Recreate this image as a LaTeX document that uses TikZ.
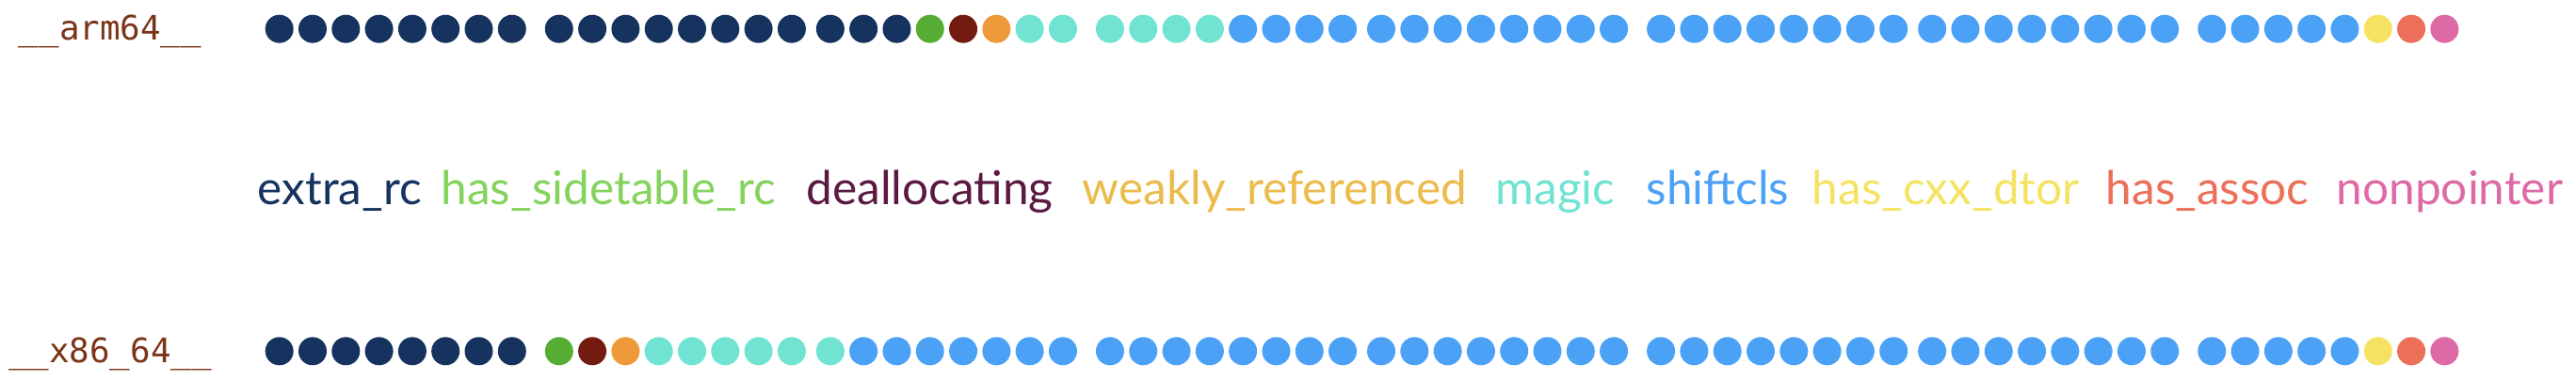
\documentclass[tikz,border=0pt]{standalone}
\usepackage{fontspec}
\setmainfont{Lato}
\newfontfamily\archfont{DejaVu Sans Mono}

\definecolor{extrarc}{HTML}{15335E}
\definecolor{sidedot}{HTML}{56AD33}
\definecolor{sidetxt}{HTML}{83D35C}
\definecolor{deallocdot}{HTML}{731B10}
\definecolor{dealloctxt}{HTML}{5B1942}
\definecolor{weakdot}{HTML}{EF9A3A}
\definecolor{weaktxt}{HTML}{EBBB4B}
\definecolor{magic}{HTML}{70E3D2}
\definecolor{shiftcls}{HTML}{4BA1F6}
\definecolor{cxxdtor}{HTML}{F6E262}
\definecolor{assoc}{HTML}{EC7059}
\definecolor{nonptr}{HTML}{DE6AA5}
\definecolor{archtxt}{HTML}{7A3418}

\begin{document}
\begin{tikzpicture}[
    arch/.style={font=\archfont\fontsize{10.2}{12}\selectfont, text=archtxt, inner sep=0, anchor=base},
    field/.style={font=\fontsize{14.1}{17}\selectfont, inner sep=0, anchor=base west}]
  \useasboundingbox (0,0) rectangle (27.36,4.04);
  % architecture names
  \node[arch] (arm) at (1.17,3.61) {\_\_arm64\_\_};
  \node[arch] (x86) at (1.17,0.19) {\_\_x86\_64\_\_};
  % isa bits, 8 to a byte, bytes in pairs
  \foreach \from/\to/\col in {0/18/extrarc, 19/19/sidedot, 20/20/deallocdot, 21/21/weakdot,
      22/27/magic, 28/60/shiftcls, 61/61/cxxdtor, 62/62/assoc, 63/63/nonptr}
    \foreach \i in {\from,...,\to} {
      \pgfmathsetmacro\bx{2.967+floor(\i/16)*5.8515+mod(floor(\i/8),2)*2.971+mod(\i,8)*0.353}
      \fill[\col] (\bx,3.733) circle (0.15);
    }
  \foreach \from/\to/\col in {0/7/extrarc, 8/8/sidedot, 9/9/deallocdot, 10/10/weakdot,
      11/16/magic, 17/60/shiftcls, 61/61/cxxdtor, 62/62/assoc, 63/63/nonptr}
    \foreach \i in {\from,...,\to} {
      \pgfmathsetmacro\bx{2.967+floor(\i/16)*5.8515+mod(floor(\i/8),2)*2.971+mod(\i,8)*0.353}
      \fill[\col] (\bx,0.307) circle (0.15);
    }
  % field names
  \node[field, text=extrarc] (extra) at (2.73,1.87) {extra\_rc};
  \node[field, text=sidetxt] (side) at (4.68,1.87) {has\_sidetable\_rc};
  \node[field, text=dealloctxt] (dealloc) at (8.56,1.87) {deallocating};
  \node[field, text=weaktxt] (weak) at (11.49,1.87) {weakly\_referenced};
  \node[field, text=magic] (mag) at (15.88,1.87) {magic};
  \node[field, text=shiftcls] (shift) at (17.48,1.87) {shiftcls};
  \node[field, text=cxxdtor] (dtor) at (19.24,1.87) {has\_cxx\_dtor};
  \node[field, text=assoc] (assc) at (22.36,1.87) {has\_assoc};
  \node[field, text=nonptr] (nptr) at (24.81,1.87) {nonpointer};
\end{tikzpicture}
\end{document}
